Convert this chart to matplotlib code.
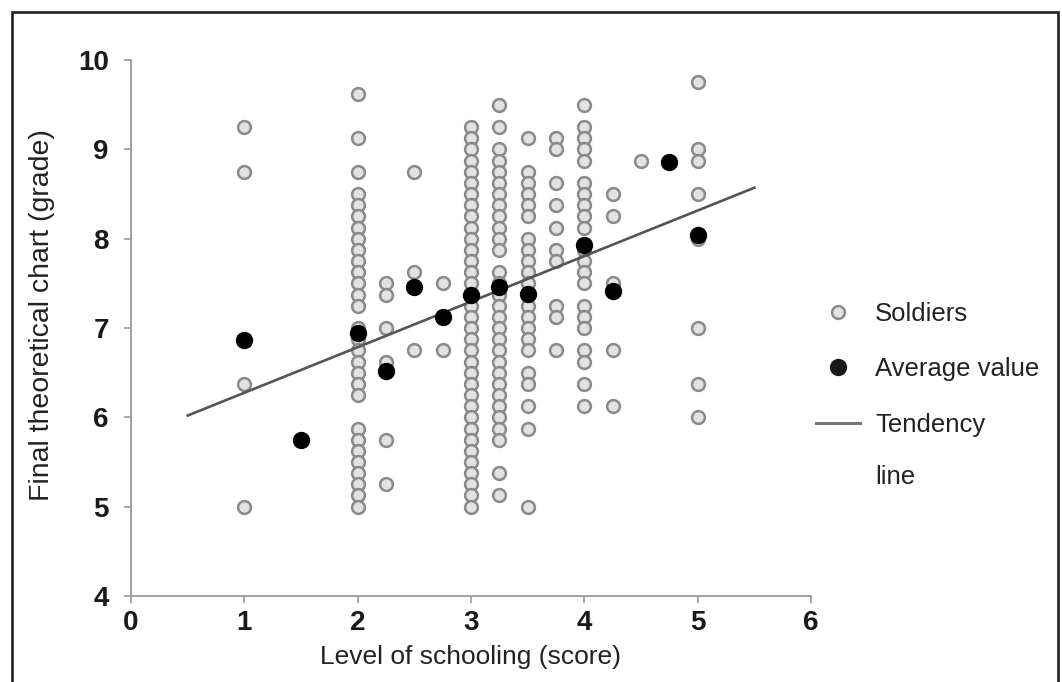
import matplotlib
matplotlib.use("Agg")
import matplotlib.pyplot as plt
from matplotlib.lines import Line2D
from matplotlib.patches import Rectangle

plt.rcParams['font.family'] = ['Liberation Sans', 'DejaVu Sans']

# individual soldiers, one list per schooling level
soldiers_x1 = [9.25, 8.75, 6.375, 5.0]
soldiers_x2 = [9.625, 9.125, 8.75, 8.5, 8.375, 8.25, 8.125, 8.0, 7.875, 7.75, 7.625,
               7.5, 7.375, 7.25, 7.0, 6.875, 6.75, 6.625, 6.5, 6.375, 6.25, 5.875,
               5.75, 5.625, 5.5, 5.375, 5.25, 5.125, 5.0]
soldiers_x225 = [7.5, 7.375, 7.0, 6.625, 5.75, 5.25]
soldiers_x25 = [8.75, 7.625, 6.75]
soldiers_x275 = [7.5, 6.75]
soldiers_x3 = [9.25, 9.125, 9.0, 8.875, 8.75, 8.625, 8.5, 8.375, 8.25, 8.125, 8.0,
               7.875, 7.75, 7.625, 7.5, 7.375, 7.25, 7.125, 7.0, 6.875, 6.75, 6.625,
               6.5, 6.375, 6.25, 6.125, 6.0, 5.875, 5.75, 5.625, 5.5, 5.375, 5.25,
               5.125, 5.0]
soldiers_x325 = [9.5, 9.25, 9.0, 8.875, 8.75, 8.625, 8.5, 8.375, 8.25, 8.125, 8.0,
                 7.875, 7.625, 7.5, 7.375, 7.25, 7.125, 7.0, 6.875, 6.75, 6.625, 6.5,
                 6.375, 6.25, 6.125, 6.0, 5.875, 5.75, 5.375, 5.125]
soldiers_x35 = [9.125, 8.75, 8.625, 8.5, 8.375, 8.25, 8.0, 7.875, 7.75, 7.625, 7.5,
                7.25, 7.125, 7.0, 6.875, 6.75, 6.5, 6.375, 6.125, 5.875, 5.0]
soldiers_x375 = [9.125, 9.0, 8.625, 8.375, 8.125, 7.875, 7.75, 7.25, 7.125, 6.75]
soldiers_x4 = [9.5, 9.25, 9.125, 9.0, 8.875, 8.625, 8.5, 8.375, 8.25, 8.125, 7.875,
               7.75, 7.625, 7.5, 7.25, 7.125, 7.0, 6.75, 6.625, 6.375, 6.125]
soldiers_x425 = [8.5, 8.25, 7.5, 6.75, 6.125]
soldiers_x45 = [8.875]
soldiers_x5 = [9.75, 9.0, 8.875, 8.5, 8.0, 7.0, 6.375, 6.0]

levels = [1, 2, 2.25, 2.5, 2.75, 3, 3.25, 3.5, 3.75, 4, 4.25, 4.5, 5]
columns = [soldiers_x1, soldiers_x2, soldiers_x225, soldiers_x25, soldiers_x275,
           soldiers_x3, soldiers_x325, soldiers_x35, soldiers_x375, soldiers_x4,
           soldiers_x425, soldiers_x45, soldiers_x5]

# average value per level
avg_x = [1, 1.5, 2, 2.25, 2.5, 2.75, 3, 3.25, 3.5, 4, 4.25, 4.75, 5]
avg_y = [6.87, 5.75, 6.94, 6.52, 7.46, 7.12, 7.37, 7.46, 7.38, 7.93, 7.41, 8.86, 8.04]

# tendency line end points
trend_x = [0.5, 5.5]
trend_y = [6.02, 8.57]

fig = plt.figure(figsize=(10.62, 6.82), dpi=100)
ax = fig.add_axes([131 / 1062, 86 / 682, 680 / 1062, 536 / 682])

sx, sy = [], []
for lv, col in zip(levels, columns):
    sx += [lv] * len(col)
    sy += col
ax.plot(sx, sy, 'o', ms=9.2, mfc='#e2e2e2', mec='#8a8a8a', mew=1.8, ls='none', zorder=2)
ax.plot(trend_x, trend_y, '-', color='#555555', lw=1.9, zorder=3)
ax.plot(avg_x, avg_y, 'o', ms=12.5, mfc='black', mec='black', mew=0, ls='none', zorder=4)

ax.set_xlim(0, 6)
ax.set_ylim(4, 10)
ax.set_xticks([0, 1, 2, 3, 4, 5, 6])
ax.set_yticks([4, 5, 6, 7, 8, 9, 10])
for s in ['top', 'right']:
    ax.spines[s].set_visible(False)
for s in ['left', 'bottom']:
    ax.spines[s].set_color('#999999')
    ax.spines[s].set_linewidth(1.3)
ax.tick_params(direction='out', length=5, width=1.2, color='#999999')
ax.tick_params(axis='y', pad=11)
ax.tick_params(axis='x', pad=5)
for lab in ax.get_xticklabels() + ax.get_yticklabels():
    lab.set_fontfamily(['Liberation Sans Narrow', 'Liberation Sans'])
    lab.set_fontweight('bold')
    lab.set_fontsize(20)
    lab.set_color('#1a1a1a')
ax.set_xlabel("Level of schooling (score)", fontsize=19, color='#222222')
ax.set_ylabel("Final theoretical chart (grade)", fontsize=20.5, color='#222222')
ax.xaxis.set_label_coords(0.5, -0.092)
ax.yaxis.set_label_coords(-0.112, 0.524)

handles = [
    Line2D([], [], marker='o', ls='none', ms=9.2, mfc='#e2e2e2', mec='#8a8a8a', mew=1.8),
    Line2D([], [], marker='o', ls='none', ms=12.5, mfc='#1a1a1a', mec='#1a1a1a', mew=0),
    Line2D([], [], color='#777777', lw=2.2),
]
fig.legend(handles, ["Soldiers", "Average value", "Tendency"], loc='upper left',
           bbox_to_anchor=(816 / 1062, 1 - 302 / 682), frameon=False, fontsize=18.5,
           borderpad=0, borderaxespad=0, handlelength=1.7, handletextpad=0.6,
           labelspacing=1.22, labelcolor='#222222')
fig.text(875 / 1062, 1 - 477 / 682, "line", fontsize=18.5, color='#222222', va='center')

fig.patches.append(Rectangle((12 / 1062, -0.1), 1046 / 1062, 1.1 - 12 / 682,
                             transform=fig.transFigure, fill=False, lw=1.9,
                             edgecolor='#222222'))

fig.savefig('out.png', dpi=100)
